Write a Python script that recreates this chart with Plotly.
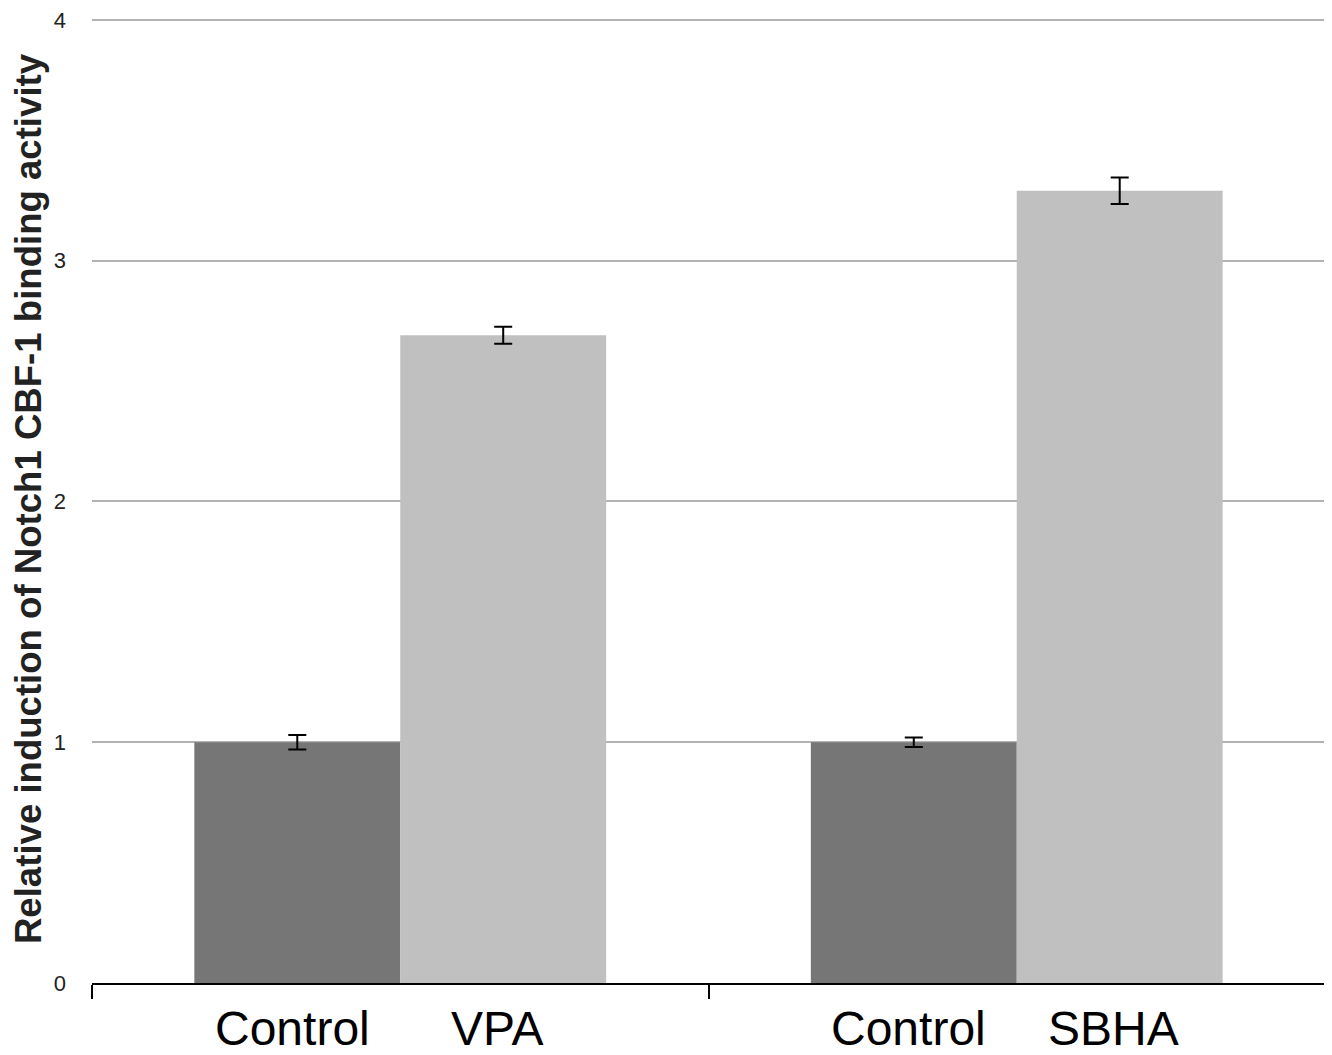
import plotly.graph_objects as go

groups = ["VPA", "SBHA"]
control_values = [1.0, 1.0]
control_errors = [0.03, 0.02]
treatment_values = [2.69, 3.29]
treatment_errors = [0.035, 0.055]
bar_labels_control = ["Control", "Control"]
bar_labels_treatment = ["VPA", "SBHA"]
y_title = "Relative induction of Notch1 CBF-1 binding activity"

fig = go.Figure()
fig.add_trace(go.Bar(
    x=groups, y=control_values, name="Control",
    marker=dict(color="#767676", line=dict(width=0)),
    error_y=dict(type="data", array=control_errors, visible=True,
                 color="black", thickness=2, width=9),
))
fig.add_trace(go.Bar(
    x=groups, y=treatment_values, name="Treatment",
    marker=dict(color="#c0c0c0", line=dict(width=0)),
    error_y=dict(type="data", array=treatment_errors, visible=True,
                 color="black", thickness=2, width=9),
))

annotations = []
for g, lc, lt in zip(groups, bar_labels_control, bar_labels_treatment):
    annotations.append(dict(x=g, xref="x", y=0, yref="paper", yanchor="top",
                            text=lc, showarrow=False, xshift=-108, yshift=-17,
                            font=dict(family="Liberation Sans, Arial", size=48, color="black")))
    annotations.append(dict(x=g, xref="x", y=0, yref="paper", yanchor="top",
                            text=lt, showarrow=False, xshift=97, yshift=-17,
                            font=dict(family="Liberation Sans, Arial", size=48, color="black")))

fig.update_layout(
    width=1324, height=1047,
    margin=dict(l=84, r=7, t=7, b=72),
    paper_bgcolor="white", plot_bgcolor="white",
    barmode="group", bargap=0.332, bargroupgap=0,
    showlegend=False,
    font=dict(family="Liberation Sans, Arial", color="black"),
    annotations=annotations,
    xaxis=dict(
        type="category", tickson="boundaries", ticks="outside", ticklen=14,
        tickwidth=2, tickcolor="black", showticklabels=False,
        showline=True, linecolor="black", linewidth=2, showgrid=False,
        range=[-0.5, 1.5], automargin=False,
    ),
    yaxis=dict(
        range=[0, 4.02], tickvals=[0, 1, 2, 3, 4], showgrid=True, gridcolor="#b3b3b3",
        gridwidth=2, zeroline=False, showline=False, ticks="",
        ticklabelstandoff=25, automargin=False, ticklabeloverflow="allow",
        tickfont=dict(size=22, color="#222222"),
        title=dict(text="<b>" + y_title + "</b>", standoff=10,
                   font=dict(size=36.6, color="#222222")),
    ),
)

fig.write_html("out.html")
